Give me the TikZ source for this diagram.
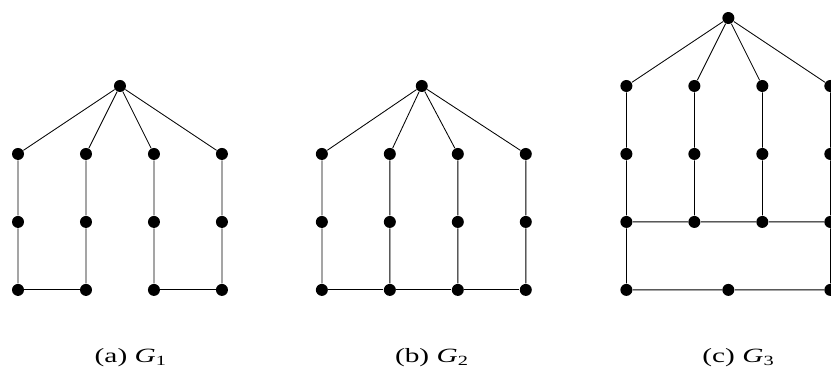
\documentclass[tikz,border=0pt]{standalone}
\usepackage{graphicx}
\usepackage{fontspec}
\setmainfont{Liberation Serif}
\newcommand{\subcap}[1]{\scalebox{1.45}[1]{#1}}

\begin{document}
\begin{tikzpicture}[scale=1.7, line width=0.6pt]
  \tikzset{dot/.style={circle, fill, inner sep=0pt, minimum size=0.3cm},
           caption/.style={font=\Large}}
  \useasboundingbox (-0.265,-1.16) rectangle (11.96,4.265);
  % G1：根 a0，四列 ai1(上)--ai2--ai3(下)
  \node[dot] (a0) at (1.5,3) {};
  \foreach \i in {1,...,4}
    \foreach \j in {1,2,3}
      \node[dot] (a\i\j) at (\i-1,3-\j) {};
  \foreach \i in {1,...,4}
    \draw (a0)--(a\i1)--(a\i2)--(a\i3);
  \draw (a13)--(a23);
  \draw (a33)--(a43);
  % G2：同 G1，底边连通
  \node[dot] (b0) at (5.94,3) {};
  \foreach \i in {1,...,4}
    \foreach \j in {1,2,3}
      \node[dot] (b\i\j) at (3.47+\i,3-\j) {};
  \foreach \i in {1,...,4}
    \draw (b0)--(b\i1)--(b\i2)--(b\i3);
  \draw (b13)--(b23)--(b33)--(b43);
  % G3：高一层，下面再加一行
  \node[dot] (c0) at (10.45,4) {};
  \foreach \i in {1,...,4}
    \foreach \j in {1,2,3}
      \node[dot] (c\i\j) at (7.95+\i,4-\j) {};
  \foreach \i in {1,...,4}
    \draw (c0)--(c\i1)--(c\i2)--(c\i3);
  \draw (c13)--(c23)--(c33)--(c43);
  \node[dot] (d1) at (8.95,0) {};
  \node[dot] (d2) at (10.45,0) {};
  \node[dot] (d3) at (11.95,0) {};
  \draw (c13)--(d1)--(d2)--(d3)--(c43);
  % 子图标题
  \node[caption] (capa) at (1.66,-0.99) {\subcap{(a) \textit{G}\textsubscript{1}}};
  \node[caption] (capb) at (6.09,-0.99) {\subcap{(b) \textit{G}\textsubscript{2}}};
  \node[caption] (capc) at (10.6,-0.99) {\subcap{(c) \textit{G}\textsubscript{3}}};
\end{tikzpicture}
\end{document}
